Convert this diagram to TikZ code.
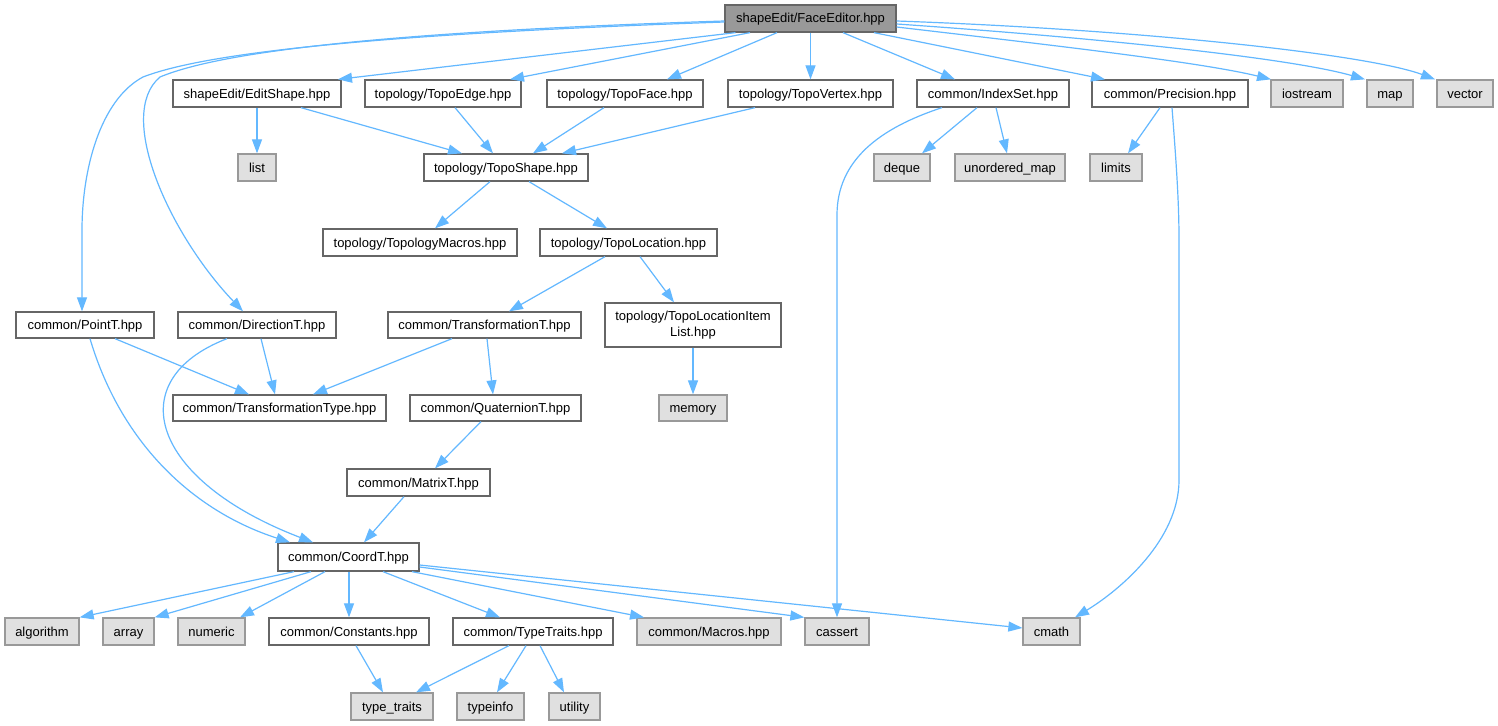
\documentclass[tikz,border=0pt]{standalone}
\usepackage{fontspec}
\setmainfont{Liberation Sans}
\usetikzlibrary{arrows.meta}
\definecolor{edgeblue}{HTML}{63B8FF}
\definecolor{bordergray}{HTML}{666666}
\definecolor{extborder}{HTML}{999999}
\definecolor{extfill}{HTML}{E0E0E0}
\definecolor{rootfill}{HTML}{999999}
\begin{document}
\begin{tikzpicture}[x=1pt,y=-1pt,
  basebox/.style={draw=bordergray, line width=1.3pt, fill=white, inner sep=0pt, minimum height=27pt, font=\fontsize{13}{16.5}\selectfont, anchor=center},
  hdr/.style={basebox, text height=9.5pt, text depth=0.5pt},
  ext/.style={hdr, draw=extborder, fill=extfill},
  rootnode/.style={hdr, fill=rootfill},
  dep/.style={draw=edgeblue, line width=1.2pt, -{Triangle[length=14pt,width=10pt]}}]
\useasboundingbox[fill=white] (0,0) rectangle (1498,725);

% row 0
\node[rootnode, minimum width=171pt] (root) at (810.5,18.5) {shapeEdit/FaceEditor.hpp};
% row 1
\node[hdr, minimum width=168pt] (editshape) at (257,93.5) {shapeEdit/EditShape.hpp};
\node[hdr, minimum width=156pt] (topoedge) at (443,93.5) {topology/TopoEdge.hpp};
\node[hdr, minimum width=156pt] (topoface) at (625,93.5) {topology/TopoFace.hpp};
\node[hdr, minimum width=165pt] (topovertex) at (810.5,93.5) {topology/TopoVertex.hpp};
\node[hdr, minimum width=152pt] (indexset) at (993,93.5) {common/IndexSet.hpp};
\node[hdr, minimum width=156pt] (precision) at (1170,93.5) {common/Precision.hpp};
\node[ext, minimum width=72pt] (iostream) at (1307,93.5) {iostream};
\node[ext, minimum width=46pt] (map) at (1390,93.5) {map};
\node[ext, minimum width=56pt] (vector) at (1465,93.5) {vector};
% row 2
\node[ext, minimum width=38pt] (list) at (257,167.5) {list};
\node[hdr, minimum width=164pt] (toposhape) at (506,167.5) {topology/TopoShape.hpp};
\node[ext, minimum width=56pt] (deque) at (902,167.5) {deque};
\node[ext, minimum width=110pt] (umap) at (1010,167.5) {unordered\_map};
\node[ext, minimum width=52pt] (limits) at (1116,167.5) {limits};
% row 3
\node[hdr, minimum width=194pt] (topomacros) at (420,242.5) {topology/TopologyMacros.hpp};
\node[hdr, minimum width=177pt] (topoloc) at (628.5,242.5) {topology/TopoLocation.hpp};
% row 4
\node[hdr, minimum width=138pt, minimum height=26pt] (pointt) at (85,325) {common/PointT.hpp};
\node[hdr, minimum width=158pt, minimum height=26pt] (directiont) at (257,325) {common/DirectionT.hpp};
\node[hdr, minimum width=193pt, minimum height=26pt] (transformt) at (484.5,325) {common/TransformationT.hpp};
\node[basebox, minimum width=176pt, minimum height=44pt, align=center] (itemlist) at (693,325) {topology/TopoLocationItem\\List.hpp};
% row 5
\node[hdr, minimum width=213pt, minimum height=26pt] (transtype) at (279.5,408) {common/TransformationType.hpp};
\node[hdr, minimum width=171pt, minimum height=26pt] (quatt) at (495.5,408) {common/QuaternionT.hpp};
\node[ext, minimum width=68pt, minimum height=26pt] (memory) at (693,408) {memory};
% row 6
\node[hdr, minimum width=143pt] (matrixt) at (418.5,482.5) {common/MatrixT.hpp};
% row 7
\node[hdr, minimum width=141pt, minimum height=28pt] (coordt) at (348.5,557) {common/CoordT.hpp};
% row 8
\node[ext, minimum width=74pt] (algorithm) at (42,631.5) {algorithm};
\node[ext, minimum width=51pt] (array) at (128.5,631.5) {array};
\node[ext, minimum width=67pt] (numeric) at (211.5,631.5) {numeric};
\node[hdr, minimum width=160pt] (constants) at (349,631.5) {common/Constants.hpp};
\node[hdr, minimum width=160pt] (typetraits) at (533,631.5) {common/TypeTraits.hpp};
\node[ext, minimum width=144pt] (macros) at (709,631.5) {common/Macros.hpp};
\node[ext, minimum width=64pt] (cassert) at (837,631.5) {cassert};
\node[ext, minimum width=57pt] (cmath) at (1051.5,631.5) {cmath};
% row 9
\node[ext, minimum width=82pt] (typetr) at (392,706.5) {type\_traits};
\node[ext, minimum width=67pt] (typeinfo) at (490.5,706.5) {typeinfo};
\node[ext, minimum width=51pt] (utility) at (574.5,706.5) {utility};

% edges from root
\draw[dep] ([xshift=-75pt]root.south) -- ([xshift=81pt]editshape.north);
\draw[dep] ([xshift=-60.5pt]root.south) -- ([xshift=67pt]topoedge.north);
\draw[dep] ([xshift=-33.5pt]root.south) -- ([xshift=42pt]topoface.north);
\draw[dep] (root.south) -- (topovertex.north);
\draw[dep] ([xshift=32.5pt]root.south) -- ([xshift=-38pt]indexset.north);
\draw[dep] ([xshift=63.5pt]root.south) -- ([xshift=-65pt]precision.north);
\draw[dep] ([yshift=-8.5pt]root.east) .. controls (1050,45) and (1200,62) .. ([xshift=-36pt]iostream.north);
\draw[dep] ([yshift=-5.5pt]root.east) .. controls (1100,38) and (1290,58) .. ([xshift=-25pt]map.north);
\draw[dep] ([yshift=-2.5pt]root.east) .. controls (1150,30) and (1370,55) .. ([xshift=-30pt]vector.north);
\draw[dep] ([yshift=-3.5pt]root.west) .. controls (350,35) and (200,55) .. (143,77)
   .. controls (100,100) and (82,170) .. (82,230) -- ([xshift=-3pt]pointt.north);
\draw[dep] ([yshift=-2.5pt]root.west) .. controls (380,32) and (220,52) .. (160,77)
   .. controls (115,115) and (170,235) .. ([xshift=-14pt]directiont.north);

% row 1 edges
\draw[dep] (editshape.south) -- (list.north);
\draw[dep] ([xshift=44pt]editshape.south) -- ([xshift=-44pt]toposhape.north);
\draw[dep] ([xshift=12pt]topoedge.south) -- ([xshift=-13pt]toposhape.north);
\draw[dep] ([xshift=-21pt]topoface.south) -- ([xshift=27pt]toposhape.north);
\draw[dep] ([xshift=-55.5pt]topovertex.south) -- ([xshift=56pt]toposhape.north);
\draw[dep] ([xshift=-16pt]indexset.south) -- ([xshift=20pt]deque.north);
\draw[dep] ([xshift=3pt]indexset.south) -- ([xshift=-3pt]umap.north);
\draw[dep] ([xshift=-51pt]indexset.south) .. controls (880,128) and (837,160) .. (837,215) -- (cassert.north);
\draw[dep] ([xshift=-10pt]precision.south) -- ([xshift=12pt]limits.north);
\draw[dep] ([xshift=2pt]precision.south) .. controls (1176,160) and (1179,200) .. (1179,240) -- (1179,480)
   .. controls (1179,540) and (1120,590) .. ([xshift=23.5pt]cmath.north);

% toposhape
\draw[dep] ([xshift=-16pt]toposhape.south) -- ([xshift=15pt]topomacros.north);
\draw[dep] ([xshift=23pt]toposhape.south) -- ([xshift=-21.5pt]topoloc.north);
\draw[dep] ([xshift=-23.5pt]topoloc.south) -- ([xshift=24.5pt]transformt.north);
\draw[dep] ([xshift=11.5pt]topoloc.south) -- ([xshift=-19pt]itemlist.north);
\draw[dep] (itemlist.south) -- (memory.north);

% row 4 edges
\draw[dep] ([xshift=30pt]pointt.south) -- ([xshift=-30.5pt]transtype.north);
\draw[dep] ([xshift=4pt]directiont.south) -- ([xshift=-4.5pt]transtype.north);
\draw[dep] ([xshift=-32.5pt]transformt.south) -- ([xshift=33.5pt]transtype.north);
\draw[dep] ([xshift=2.5pt]transformt.south) -- ([xshift=-2.5pt]quatt.north);
\draw[dep] ([xshift=5pt]pointt.south) .. controls (120,440) and (190,510) .. ([xshift=-58.5pt]coordt.north);
\draw[dep] ([xshift=-30pt]directiont.south) .. controls (120,380) and (150,480) .. ([xshift=-35.5pt]coordt.north);
\draw[dep] ([xshift=-14.5pt]quatt.south) -- ([xshift=16.5pt]matrixt.north);
\draw[dep] ([xshift=-14.5pt]matrixt.south) -- ([xshift=15.5pt]coordt.north);

% coordt edges
\draw[dep] ([xshift=-54.5pt]coordt.south) -- (algorithm.north east);
\draw[dep] ([xshift=-37.5pt]coordt.south) -- (array.north east);
\draw[dep] ([xshift=-23.5pt]coordt.south) -- ([xshift=28.5pt]numeric.north);
\draw[dep] ([xshift=0.5pt]coordt.south) -- (constants.north);
\draw[dep] ([xshift=34.5pt]coordt.south) -- ([xshift=-33pt]typetraits.north);
\draw[dep] ([xshift=63.5pt]coordt.south) -- ([xshift=-65pt]macros.north);
\draw[dep] ([yshift=-10pt]coordt.east) -- (cassert.north west);
\draw[dep] ([yshift=-8pt]coordt.east) -- ([yshift=3.5pt]cmath.west);

% bottom
\draw[dep] ([xshift=7pt]constants.south) -- ([xshift=-9pt]typetr.north);
\draw[dep] ([xshift=-24pt]typetraits.south) -- ([xshift=24pt]typetr.north);
\draw[dep] ([xshift=-7pt]typetraits.south) -- ([xshift=6.5pt]typeinfo.north);
\draw[dep] ([xshift=7pt]typetraits.south) -- ([xshift=-10.5pt]utility.north);
\end{tikzpicture}
\end{document}
